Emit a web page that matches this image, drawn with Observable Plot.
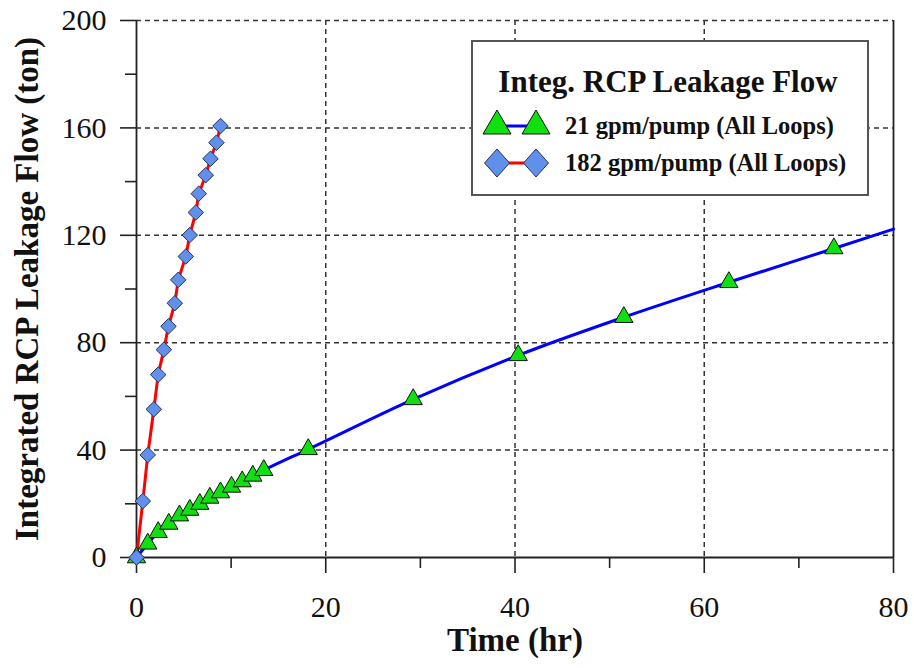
<!DOCTYPE html>
<html>
<head>
<meta charset="utf-8">
<script src="https://cdn.jsdelivr.net/npm/d3@7"></script>
<script src="https://cdn.jsdelivr.net/npm/@observablehq/plot@0.6"></script>
<style>
  html, body { margin: 0; padding: 0; background: #fff; }
  #wrap { position: relative; width: 914px; height: 668px; }
  #legend { position: absolute; left: 471px; top: 40px; }
</style>
</head>
<body>
<div id="wrap"></div>
<script>
// ---- data ----
const seriesNames = ["21 gpm/pump (All Loops)", "182 gpm/pump (All Loops)"];
const legendTitle = "Integ. RCP Leakage Flow";
const xLabel = "Time (hr)";
const yLabel = "Integrated RCP Leakage Flow (ton)";

// 21 gpm/pump: time (hr) and integrated flow (ton); last point is the line end (no marker)
const time21 = [0, 1.19, 2.29, 3.41, 4.54, 5.63, 6.69, 7.75, 8.88, 10.04, 11.17, 12.29, 13.45, 18.15, 29.24, 40.34, 51.5, 62.6, 73.7, 80];
const flow21 = [0, 5.1, 9.4, 12.5, 15.6, 17.7, 19.9, 22.2, 24.2, 26.3, 28.3, 30.4, 32.5, 40.3, 58.9, 75.3, 89.5, 102.5, 115.1, 122.3];
const marker21 = [true, true, true, true, true, true, true, true, true, true, true, true, true, true, true, true, true, true, true, false];

// 182 gpm/pump
const time182 = [0, 0.67, 1.19, 1.83, 2.29, 2.89, 3.38, 4.05, 4.41, 5.21, 5.63, 6.27, 6.58, 7.32, 7.82, 8.45, 8.88];
const flow182 = [0, 21, 38.2, 55.2, 68.1, 77.4, 86.1, 94.7, 103.4, 112.1, 120.1, 128.5, 135.5, 142.4, 148.5, 154.5, 160.7];

const xMajor = [0, 20, 40, 60, 80];
const xMinor = [10, 30, 50, 70];
const yMajor = [0, 40, 80, 120, 160, 200];
const yMinor = [20, 60, 100, 140, 180];
const xGrid = [20, 40, 60];
const yGrid = [40, 80, 120, 160, 200];

// ---- tables ----
const s21 = time21.map((t, i) => ({t, v: flow21[i], m: marker21[i]}));
const s182 = time182.map((t, i) => ({t, v: flow182[i]}));

const serif = "'Liberation Serif', 'Times New Roman', serif";
const ink = "#222";
const gridStyle = {stroke: "#333", strokeOpacity: 1, strokeWidth: 1.5, strokeDasharray: "5,4"};

const chart = Plot.plot({
  width: 914,
  height: 668,
  marginLeft: 136,
  marginRight: 21,
  marginTop: 20,
  marginBottom: 111,
  style: {fontFamily: serif, color: "#111", background: "white", overflow: "visible"},
  x: {domain: [0, 80]},
  y: {domain: [0, 200]},
  marks: [
    Plot.gridX(xGrid, gridStyle),
    Plot.gridY(yGrid, gridStyle),
    Plot.ruleX([0, 80], {stroke: ink, strokeWidth: 1.8}),
    Plot.ruleY([0], {stroke: ink, strokeWidth: 1.8}),
    Plot.axisY(yMajor, {tickSize: 16, tickPadding: 14, fontSize: 30, stroke: ink, strokeWidth: 1.6, label: null}),
    Plot.axisY(yMinor, {tickSize: 11, text: null, stroke: ink, strokeWidth: 1.6, label: null}),
    Plot.axisX(xMajor, {tickSize: 16, tickPadding: 22, fontSize: 30, stroke: ink, strokeWidth: 1.6, label: null}),
    Plot.axisX(xMinor, {tickSize: 11, text: null, stroke: ink, strokeWidth: 1.6, label: null}),
    Plot.text([yLabel], {frameAnchor: "left", textAnchor: "middle", lineAnchor: "middle", dx: -109, rotate: -90, fontSize: 33, fontWeight: "bold", fill: "#111"}),
    Plot.text([xLabel], {frameAnchor: "bottom", textAnchor: "middle", lineAnchor: "middle", dy: 83, fontSize: 33, fontWeight: "bold", fill: "#111"}),
    Plot.line(s21, {x: "t", y: "v", stroke: "#0000ff", strokeWidth: 3, curve: "monotone-x"}),
    Plot.line(s182, {x: "t", y: "v", stroke: "#ff0000", strokeWidth: 3}),
    Plot.dot(s21.filter(d => d.m), {x: "t", y: "v", symbol: "triangle", r: 6.8, fill: "#10e010", stroke: "#111", strokeWidth: 1}),
    Plot.dot(s182, {x: "t", y: "v", symbol: "diamond2", r: 7, fill: "#6090ec", stroke: "#2a3550", strokeWidth: 1})
  ]
});

const wrap = document.getElementById("wrap");
wrap.appendChild(chart);

// ---- legend (overlay) ----
const lw = 398, lh = 156;
const ns = "http://www.w3.org/2000/svg";
const lg = d3.select(wrap).append("svg")
  .attr("id", "legend")
  .attr("xmlns", ns)
  .attr("width", lw).attr("height", lh)
  .style("font-family", serif);
lg.append("rect").attr("x", 1).attr("y", 1).attr("width", lw - 2).attr("height", lh - 2)
  .attr("fill", "white").attr("stroke", "#555").attr("stroke-width", 2);
lg.append("text").attr("x", 197).attr("y", 52).attr("text-anchor", "middle")
  .attr("font-size", 31).attr("font-weight", "bold").attr("fill", "#111").text(legendTitle);

const rows = [
  {name: seriesNames[0], y: 86, stroke: "#0000ff", fill: "#10e010", mstroke: "#111", shape: "tri", ty: 94},
  {name: seriesNames[1], y: 123, stroke: "#ff0000", fill: "#6090ec", mstroke: "#2a3550", shape: "dia", ty: 131}
];
for (const r of rows) {
  lg.append("line").attr("x1", 26).attr("x2", 65).attr("y1", r.y).attr("y2", r.y)
    .attr("stroke", r.stroke).attr("stroke-width", 3);
  for (const cx of [26, 65]) {
    const p = r.shape === "tri"
      ? `M${cx},${r.y - 16}L${cx + 14},${r.y + 8}L${cx - 14},${r.y + 8}Z`
      : `M${cx},${r.y - 14}L${cx + 12.5},${r.y}L${cx},${r.y + 14}L${cx - 12.5},${r.y}Z`;
    lg.append("path").attr("d", p).attr("fill", r.fill).attr("stroke", r.mstroke).attr("stroke-width", 1);
  }
  lg.append("text").attr("x", 94).attr("y", r.ty).attr("font-size", 24.5).attr("font-weight", "bold")
    .attr("fill", "#111").text(r.name);
}
</script>
</body>
</html>
